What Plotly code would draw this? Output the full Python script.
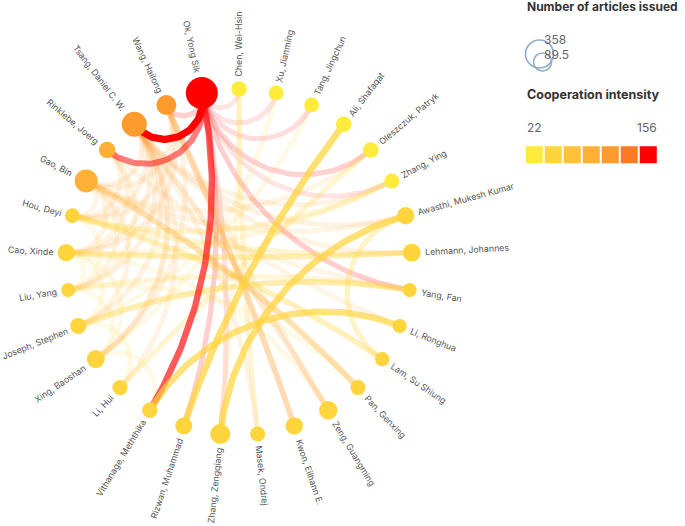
import math
import plotly.graph_objects as go

# ---------------- data ----------------
authors = ["Chen, Wei-Hsin", "Xu, Jianming", "Tang, Jingchun", "Ali, Shafaqat",
           "Oleszczuk, Patryk", "Zhang, Ying", "Awasthi, Mukesh Kumar", "Lehmann, Johannes",
           "Yang, Fan", "Li, Ronghua", "Lam, Su Shiung", "Pan, Genxing", "Zeng, Guangming",
           "Kwon, Eilhann E.", "Masek, Ondrej", "Zhang, Zengqiang", "Rizwan, Muhammad",
           "Vithanage, Meththika", "Li, Hui", "Xing, Baoshan", "Joseph, Stephen", "Liu, Yang",
           "Cao, Xinde", "Hou, Deyi", "Gao, Bin", "Rinklebe, Joerg", "Tsang, Daniel C. W.",
           "Wang, Hailong", "Ok, Yong Sik"]
articles = [84, 79, 76, 86, 86, 79, 105, 110, 69, 69, 72, 79, 117, 105, 79, 140, 101, 82,
            82, 113, 90, 69, 105, 76, 185, 95, 218, 140, 358]
intensity = [30, 30, 32, 34, 34, 32, 44, 44, 42, 42, 42, 44, 46, 46, 44, 50, 48, 50,
             44, 46, 46, 44, 48, 46, 88, 84, 112, 106, 156]

edge_source = [
    "Ok, Yong Sik", "Ok, Yong Sik", "Ok, Yong Sik", "Ali, Shafaqat", "Awasthi, Mukesh Kumar",
    "Li, Ronghua", "Ok, Yong Sik", "Ok, Yong Sik", "Ok, Yong Sik", "Ok, Yong Sik",
    "Ok, Yong Sik", "Ok, Yong Sik", "Ok, Yong Sik", "Ok, Yong Sik", "Ok, Yong Sik",
    "Lehmann, Johannes", "Joseph, Stephen", "Gao, Bin", "Hou, Deyi", "Wang, Hailong",
    "Chen, Wei-Hsin", "Tsang, Daniel C. W.", "Awasthi, Mukesh Kumar", "Zhang, Ying",
    "Liu, Yang", "Xing, Baoshan", "Li, Hui", "Hou, Deyi", "Chen, Wei-Hsin", "Xu, Jianming",
    "Tang, Jingchun", "Zhang, Ying", "Tsang, Daniel C. W.", "Tsang, Daniel C. W.",
    "Tsang, Daniel C. W.", "Tsang, Daniel C. W.", "Tsang, Daniel C. W.", "Tsang, Daniel C. W.",
    "Wang, Hailong", "Wang, Hailong", "Wang, Hailong", "Wang, Hailong", "Rinklebe, Joerg",
    "Rinklebe, Joerg", "Rinklebe, Joerg", "Gao, Bin", "Gao, Bin", "Gao, Bin", "Gao, Bin",
    "Hou, Deyi", "Cao, Xinde", "Cao, Xinde", "Cao, Xinde", "Liu, Yang", "Joseph, Stephen",
    "Xing, Baoshan", "Tsang, Daniel C. W.", "Tsang, Daniel C. W.", "Tsang, Daniel C. W.",
    "Gao, Bin", "Gao, Bin", "Rinklebe, Joerg", "Wang, Hailong", "Tsang, Daniel C. W.",
    "Cao, Xinde", "Liu, Yang", "Oleszczuk, Patryk"]
edge_target = [
    "Tsang, Daniel C. W.", "Vithanage, Meththika", "Rinklebe, Joerg", "Rizwan, Muhammad",
    "Zhang, Zengqiang", "Vithanage, Meththika", "Yang, Fan", "Oleszczuk, Patryk",
    "Wang, Hailong", "Tang, Jingchun", "Rizwan, Muhammad", "Xu, Jianming", "Zhang, Zengqiang",
    "Zhang, Ying", "Chen, Wei-Hsin", "Cao, Xinde", "Yang, Fan", "Pan, Genxing",
    "Lam, Su Shiung", "Kwon, Eilhann E.", "Masek, Ondrej", "Zeng, Guangming", "Lam, Su Shiung",
    "Hou, Deyi", "Yang, Fan", "Tsang, Daniel C. W.", "Oleszczuk, Patryk", "Lehmann, Johannes",
    "Zhang, Zengqiang", "Xing, Baoshan", "Joseph, Stephen", "Cao, Xinde", "Gao, Bin",
    "Hou, Deyi", "Cao, Xinde", "Liu, Yang", "Joseph, Stephen", "Li, Hui", "Gao, Bin",
    "Cao, Xinde", "Xing, Baoshan", "Hou, Deyi", "Hou, Deyi", "Cao, Xinde", "Liu, Yang",
    "Cao, Xinde", "Liu, Yang", "Joseph, Stephen", "Hou, Deyi", "Liu, Yang", "Joseph, Stephen",
    "Xing, Baoshan", "Liu, Yang", "Xing, Baoshan", "Li, Hui", "Vithanage, Meththika",
    "Awasthi, Mukesh Kumar", "Lehmann, Johannes", "Zhang, Ying", "Awasthi, Mukesh Kumar",
    "Yang, Fan", "Li, Ronghua", "Zeng, Guangming", "Masek, Ondrej", "Zeng, Guangming",
    "Pan, Genxing", "Gao, Bin"]
edge_weight = [156, 105, 85, 118, 116, 110, 38, 36, 38, 30, 38, 27, 28, 26, 25,
               64, 70, 66, 60, 62, 40, 42, 50, 45, 40, 40, 45, 45, 30, 28, 28, 32,
               32, 30, 30, 30, 30, 28, 30, 30, 28, 28, 32, 30, 28, 30, 28, 30, 28,
               28, 30, 28, 28, 28, 30, 28, 30, 28, 28, 28, 28, 28, 28, 28, 28, 28, 28]

legend_sizes = ["358", "89.5"]
intensity_min, intensity_max = 22, 156
piece_colors = ["#ffeb3b", "#ffd43c", "#ffc139", "#ffb035", "#ff9a2c", "#ff7a24", "#ff0000"]

# ---------------- layout helpers ----------------
W, H = 685, 526
CX, CY = 239, 262          # circle centre in pixels
R = 173                    # circle radius in pixels
N = len(authors)
idx = {a: i for i, a in enumerate(authors)}
theta = [math.radians(90 - i * 360.0 / N) for i in range(N)]
node_x = [R * math.cos(t) for t in theta]
node_y = [R * math.sin(t) for t in theta]
node_d = [32 * math.sqrt(a / max(articles)) for a in articles]


def piece_color(v):
    step = (intensity_max - intensity_min) / len(piece_colors)
    k = int((v - intensity_min) // step)
    return piece_colors[max(0, min(len(piece_colors) - 1, k))]


def rgba(hexc, a):
    h = hexc.lstrip("#")
    return "rgba(%d,%d,%d,%.3f)" % (int(h[0:2], 16), int(h[2:4], 16), int(h[4:6], 16), a)


def arc(i, j, n=60):
    t1, t2 = theta[i], theta[j]
    p1 = (node_x[i], node_y[i]); p2 = (node_x[j], node_y[j])
    d = (t2 - t1 + math.pi) % (2 * math.pi) - math.pi
    if abs(abs(d) - math.pi) < 1e-3:
        return [p1[0], p2[0]], [p1[1], p2[1]]
    alpha = abs(d) / 2
    phi = t1 + d / 2
    dc = R / math.cos(alpha)
    rho = R * math.tan(alpha)
    cx, cy = dc * math.cos(phi), dc * math.sin(phi)
    b1 = math.atan2(p1[1] - cy, p1[0] - cx)
    b2 = math.atan2(p2[1] - cy, p2[0] - cx)
    db = (b2 - b1 + math.pi) % (2 * math.pi) - math.pi
    xs, ys = [], []
    for k in range(n + 1):
        b = b1 + db * k / n
        xs.append(cx + rho * math.cos(b)); ys.append(cy + rho * math.sin(b))
    return xs, ys


fig = go.Figure()

# edges: weaker first
order = sorted(range(len(edge_weight)), key=lambda k: edge_weight[k])
wmin, wmax = intensity_min, max(edge_weight)
for k in order:
    i, j = idx[edge_source[k]], idx[edge_target[k]]
    src = i if intensity[i] >= intensity[j] else j
    w = edge_weight[k]
    f = (w - wmin) / (wmax - wmin)
    xs, ys = arc(i, j)
    fig.add_trace(go.Scatter(
        x=xs, y=ys, mode="lines", hoverinfo="skip", showlegend=False,
        line=dict(color=rgba(piece_color(intensity[src]), 0.08 + 0.92 * f),
                  width=5 + 2.2 * f, shape="linear")))

# nodes
fig.add_trace(go.Scatter(
    x=node_x, y=node_y, mode="markers", showlegend=False,
    text=authors, customdata=articles,
    hovertemplate="%{text}<br>%{customdata}<extra></extra>",
    marker=dict(size=node_d, color=[piece_color(v) for v in intensity],
                line=dict(width=0), opacity=1)))

# rotated labels
ARIAL = {' ': 278, ',': 278, '.': 278, '-': 333,
         'A': 667, 'B': 667, 'C': 722, 'D': 722, 'E': 667, 'F': 611, 'G': 778, 'H': 722,
         'I': 278, 'J': 500, 'K': 667, 'L': 556, 'M': 833, 'N': 722, 'O': 778, 'P': 667,
         'Q': 778, 'R': 722, 'S': 667, 'T': 611, 'U': 722, 'V': 667, 'W': 944, 'X': 667,
         'Y': 667, 'Z': 611, 'a': 556, 'b': 556, 'c': 500, 'd': 556, 'e': 556, 'f': 278,
         'g': 556, 'h': 556, 'i': 222, 'j': 222, 'k': 500, 'l': 222, 'm': 833, 'n': 556,
         'o': 556, 'p': 556, 'q': 556, 'r': 333, 's': 500, 't': 278, 'u': 556, 'v': 500,
         'w': 722, 'x': 500, 'y': 500, 'z': 500}
LABEL_SIZE = 8.8


def text_len(s, size):
    return sum(ARIAL.get(c, 556) for c in s) / 1000.0 * size * 1.06


annotations = []
for i, name in enumerate(authors):
    t = theta[i]
    L = text_len(name, LABEL_SIZE)
    dist = R + node_d[i] / 2 + 4 + L / 2
    deg = math.degrees(t)
    if math.cos(t) >= 0:
        ang = -deg
    else:
        ang = -(deg + 180)
    ang = (ang + 180) % 360 - 180
    annotations.append(dict(
        x=dist * math.cos(t), y=dist * math.sin(t), xref="x", yref="y",
        text=name, showarrow=False, textangle=ang, xanchor="center", yanchor="middle",
        font=dict(family="Inter, Liberation Sans, sans-serif", size=LABEL_SIZE, color="#555555"),
        borderpad=0))


def px(x):
    return x / W


def py(y):
    return 1 - y / H


# legend texts
annotations.append(dict(x=px(525), y=py(7), xref="paper", yref="paper", xanchor="left",
                        yanchor="middle", showarrow=False, text="<b>Number of articles issued</b>",
                        font=dict(family="Inter, sans-serif", size=12, color="#333333")))
annotations.append(dict(x=px(525), y=py(95), xref="paper", yref="paper", xanchor="left",
                        yanchor="middle", showarrow=False, text="<b>Cooperation intensity</b>",
                        font=dict(family="Inter, sans-serif", size=12.5, color="#333333")))
annotations.append(dict(x=px(542), y=py(39.5), xref="paper", yref="paper", xanchor="left",
                        yanchor="middle", showarrow=False, text=legend_sizes[0],
                        font=dict(family="Inter, sans-serif", size=12, color="#666666")))
annotations.append(dict(x=px(542), y=py(55), xref="paper", yref="paper", xanchor="left",
                        yanchor="middle", showarrow=False, text=legend_sizes[1],
                        font=dict(family="Inter, sans-serif", size=12, color="#666666")))
annotations.append(dict(x=px(525), y=py(128), xref="paper", yref="paper", xanchor="left",
                        yanchor="middle", showarrow=False, text=str(intensity_min),
                        font=dict(family="Inter, sans-serif", size=12, color="#666666")))
annotations.append(dict(x=px(659), y=py(128), xref="paper", yref="paper", xanchor="right",
                        yanchor="middle", showarrow=False, text=str(intensity_max),
                        font=dict(family="Inter, sans-serif", size=12, color="#666666")))

shapes = []
# size legend circles
for (cx, cy, r) in [(539.5, 54, 14), (542.5, 62, 9)]:
    shapes.append(dict(type="circle", xref="paper", yref="paper",
                       x0=px(cx - r), x1=px(cx + r), y0=py(cy + r), y1=py(cy - r),
                       line=dict(color="#8fadcc", width=1.6), fillcolor="rgba(0,0,0,0)"))
# colour pieces
for k, c in enumerate(piece_colors):
    x0 = 525.5 + k * 19.0
    shapes.append(dict(type="rect", xref="paper", yref="paper",
                       x0=px(x0), x1=px(x0 + 17.5), y0=py(163.5), y1=py(146),
                       line=dict(color="rgba(255,255,255,0.6)", width=0.8), fillcolor=c))

fig.update_layout(
    width=W, height=H, margin=dict(l=0, r=0, t=0, b=0),
    paper_bgcolor="white", plot_bgcolor="white",
    xaxis=dict(range=[-CX, W - CX], visible=False, fixedrange=True),
    yaxis=dict(range=[CY - H, CY], visible=False, fixedrange=True),
    annotations=annotations, shapes=shapes, showlegend=False)

fig.write_html("out.html", config={"displayModeBar": False},
               post_script="document.body.style.margin='0px';document.body.style.overflow='hidden';")
